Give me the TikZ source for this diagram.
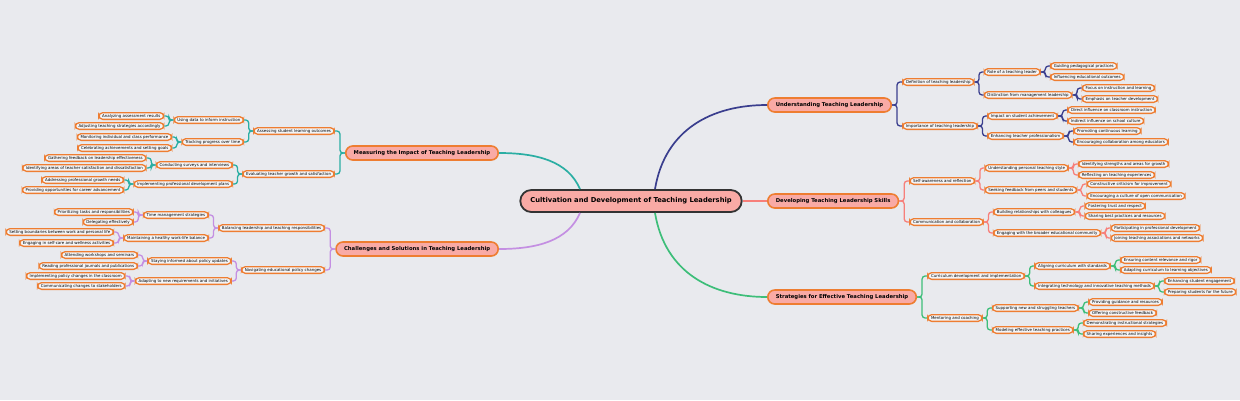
\documentclass[tikz,border=0pt]{standalone}
\usepackage{fontspec}
\setmainfont{DejaVu Sans}

\definecolor{bgcol}{HTML}{E9EAEE}
\definecolor{boxline}{HTML}{EE7D31}
\definecolor{salmon}{HTML}{F9AAA5}
\definecolor{leaffill}{HTML}{F4F5F7}
\definecolor{rootline}{HTML}{333333}
\definecolor{navybr}{HTML}{3A3E8E}
\definecolor{coralbr}{HTML}{F77F7A}
\definecolor{mintbr}{HTML}{3DBE79}
\definecolor{tealbr}{HTML}{2AAEA3}
\definecolor{lilacbr}{HTML}{C48FE2}

\tikzset{
  rootbox/.style={draw=rootline, line width=1.8pt, fill=salmon, rounded corners=11pt,
    minimum height=22pt, inner xsep=10pt, font=\fontsize{6.75}{8}\selectfont\bfseries},
  topic/.style={draw=boxline, line width=1.6pt, fill=salmon, rounded corners=7pt,
    minimum height=14pt, inner xsep=8pt, font=\fontsize{5.3}{6.5}\selectfont\bfseries},
  leaf/.style={draw=boxline, line width=1.3pt, fill=leaffill, rounded corners=4pt,
    inner xsep=3.3pt, inner ysep=1.4pt, text height=3pt, text depth=0.9pt,
    font=\fontsize{3.95}{5}\selectfont},
  rkid/.style={anchor=west, xshift=#1pt}, rkid/.default=9,
  lkid/.style={anchor=east, xshift=-#1pt}, lkid/.default=9,
  bough/.style={line width=1.7pt},
  twig/.style={line width=1.3pt, rounded corners=3pt},
}

\begin{document}
\begin{tikzpicture}[x=1pt,y=-1pt]
\useasboundingbox (0,0) rectangle (1240,400);
\fill[bgcol] (0,0) rectangle (1240,400);

\node[rootbox] (root) at (631,201) {Cultivation and Development of Teaching Leadership};

% right: understanding
\node[topic, anchor=west] (und) at (767,105) {Understanding Teaching Leadership};
\node[leaf, rkid=10] (def) at (und.east |- 0,82) {Definition of teaching leadership};
\node[leaf, rkid=10] (imp) at (und.east |- 0,126) {Importance of teaching leadership};
\node[leaf, rkid] (role) at (def.east |- 0,72) {Role of a teaching leader};
\node[leaf, rkid] (dist) at (def.east |- 0,95) {Distinction from management leadership};
\node[leaf, rkid] (guid) at (role.east |- 0,66) {Guiding pedagogical practices};
\node[leaf, rkid] (infl) at (role.east |- 0,77) {Influencing educational outcomes};
\node[leaf, rkid] (focus) at (dist.east |- 0,88) {Focus on instruction and learning};
\node[leaf, rkid] (emph) at (dist.east |- 0,99) {Emphasis on teacher development};
\node[leaf, rkid] (impact) at (imp.east |- 0,116) {Impact on student achievement};
\node[leaf, rkid] (enh) at (imp.east |- 0,136) {Enhancing teacher professionalism};
\node[leaf, rkid] (direct) at (impact.east |- 0,110) {Direct influence on classroom instruction};
\node[leaf, rkid] (indir) at (impact.east |- 0,121) {Indirect influence on school culture};
\node[leaf, rkid] (promo) at (enh.east |- 0,131) {Promoting continuous learning};
\node[leaf, rkid] (encour) at (enh.east |- 0,142) {Encouraging collaboration among educators};

% right: developing
\node[topic, anchor=west] (dev) at (767,201) {Developing Teaching Leadership Skills};
\node[leaf, rkid=10] (self) at (dev.east |- 0,181) {Self-awareness and reflection};
\node[leaf, rkid=10] (comm) at (dev.east |- 0,222) {Communication and collaboration};
\node[leaf, rkid] (upts) at (self.east |- 0,168) {Understanding personal teaching style};
\node[leaf, rkid] (seek) at (self.east |- 0,190) {Seeking feedback from peers and students};
\node[leaf, rkid] (strength) at (upts.east |- 0,164) {Identifying strengths and areas for growth};
\node[leaf, rkid] (reflect) at (upts.east |- 0,175) {Reflecting on teaching experiences};
\node[leaf, rkid] (constr) at (seek.east |- 0,184) {Constructive criticism for improvement};
\node[leaf, rkid] (culture) at (seek.east |- 0,196) {Encouraging a culture of open communication};
\node[leaf, rkid] (build) at (comm.east |- 0,212) {Building relationships with colleagues};
\node[leaf, rkid] (broad) at (comm.east |- 0,233) {Engaging with the broader educational community};
\node[leaf, rkid] (trust) at (build.east |- 0,206) {Fostering trust and respect};
\node[leaf, rkid] (best) at (build.east |- 0,216) {Sharing best practices and resources};
\node[leaf, rkid] (partic) at (broad.east |- 0,228) {Participating in professional development};
\node[leaf, rkid] (join) at (broad.east |- 0,238) {Joining teaching associations and networks};

% right: strategies
\node[topic, anchor=west] (strat) at (767,297) {Strategies for Effective Teaching Leadership};
\node[leaf, rkid=10] (curr) at (strat.east |- 0,276) {Curriculum development and implementation};
\node[leaf, rkid=10] (ment) at (strat.east |- 0,318) {Mentoring and coaching};
\node[leaf, rkid] (align) at (curr.east |- 0,266) {Aligning curriculum with standards};
\node[leaf, rkid] (integ) at (curr.east |- 0,286) {Integrating technology and innovative teaching methods};
\node[leaf, rkid] (ensure) at (align.east |- 0,260) {Ensuring content relevance and rigor};
\node[leaf, rkid] (adaptc) at (align.east |- 0,270) {Adapting curriculum to learning objectives};
\node[leaf, rkid] (engage) at (integ.east |- 0,281) {Enhancing student engagement};
\node[leaf, rkid] (prep) at (integ.east |- 0,292) {Preparing students for the future};
\node[leaf, rkid] (support) at (ment.east |- 0,308) {Supporting new and struggling teachers};
\node[leaf, rkid] (model) at (ment.east |- 0,330) {Modeling effective teaching practices};
\node[leaf, rkid] (guide) at (support.east |- 0,302) {Providing guidance and resources};
\node[leaf, rkid] (offer) at (support.east |- 0,313) {Offering constructive feedback};
\node[leaf, rkid] (demo) at (model.east |- 0,323) {Demonstrating instructional strategies};
\node[leaf, rkid] (sharex) at (model.east |- 0,334) {Sharing experiences and insights};

% left: measuring
\node[topic, anchor=east] (meas) at (499,153) {Measuring the Impact of Teaching Leadership};
\node[leaf, lkid=10] (assess) at (meas.west |- 0,131) {Assessing student learning outcomes};
\node[leaf, lkid=10] (evalg) at (meas.west |- 0,174) {Evaluating teacher growth and satisfaction};
\node[leaf, lkid] (usedata) at (assess.west |- 0,120) {Using data to inform instruction};
\node[leaf, lkid] (track) at (assess.west |- 0,142) {Tracking progress over time};
\node[leaf, lkid] (analyze) at (usedata.west |- 0,116) {Analyzing assessment results};
\node[leaf, lkid] (adjust) at (usedata.west |- 0,126) {Adjusting teaching strategies accordingly};
\node[leaf, lkid] (monitor) at (track.west |- 0,137) {Monitoring individual and class performance};
\node[leaf, lkid] (celeb) at (track.west |- 0,148) {Celebrating achievements and setting goals};
\node[leaf, lkid] (survey) at (evalg.west |- 0,165) {Conducting surveys and interviews};
\node[leaf, lkid] (plans) at (evalg.west |- 0,184) {Implementing professional development plans};
\node[leaf, lkid] (gather) at (survey.west |- 0,158) {Gathering feedback on leadership effectiveness};
\node[leaf, lkid] (identa) at (survey.west |- 0,168) {Identifying areas of teacher satisfaction and dissatisfaction};
\node[leaf, lkid] (address) at (plans.west |- 0,180) {Addressing professional growth needs};
\node[leaf, lkid] (career) at (plans.west |- 0,190) {Providing opportunities for career advancement};

% left: challenges
\node[topic, anchor=east] (chal) at (499,249) {Challenges and Solutions in Teaching Leadership};
\node[leaf, lkid=10] (balance) at (chal.west |- 0,228) {Balancing leadership and teaching responsibilities};
\node[leaf, lkid=10] (navig) at (chal.west |- 0,270) {Navigating educational policy changes};
\node[leaf, lkid] (timem) at (balance.west |- 0,215) {Time management strategies};
\node[leaf, lkid] (worklife) at (balance.west |- 0,238) {Maintaining a healthy work-life balance};
\node[leaf, lkid] (prior) at (timem.west |- 0,212) {Prioritizing tasks and responsibilities};
\node[leaf, lkid] (deleg) at (timem.west |- 0,222) {Delegating effectively};
\node[leaf, lkid] (bound) at (worklife.west |- 0,232) {Setting boundaries between work and personal life};
\node[leaf, lkid] (selfc) at (worklife.west |- 0,243) {Engaging in self-care and wellness activities};
\node[leaf, lkid] (stay) at (navig.west |- 0,261) {Staying informed about policy updates};
\node[leaf, lkid] (adaptn) at (navig.west |- 0,281) {Adapting to new requirements and initiatives};
\node[leaf, lkid] (attend) at (stay.west |- 0,255) {Attending workshops and seminars};
\node[leaf, lkid] (read) at (stay.west |- 0,266) {Reading professional journals and publications};
\node[leaf, lkid] (implp) at (adaptn.west |- 0,276) {Implementing policy changes in the classroom};
\node[leaf, lkid] (commc) at (adaptn.west |- 0,286) {Communicating changes to stakeholders};

% main boughs
\draw[bough, navybr] ([xshift=24pt]root.north) .. controls +(10,-60) and +(-55,0) .. (und.west);
\draw[bough, coralbr] (root.east) -- (dev.west);
\draw[bough, mintbr] ([xshift=24pt]root.south) .. controls +(10,60) and +(-55,0) .. (strat.west);
\draw[bough, tealbr] ([xshift=-51pt]root.north) .. controls +(-12,-28) and +(38,0) .. (meas.east);
\draw[bough, lilacbr] ([xshift=-51pt]root.south) .. controls +(-12,28) and +(38,0) .. (chal.east);

% twigs, right side
\foreach \p/\c/\g in {und/def/5,und/imp/5,def/role/4.5,def/dist/4.5,role/guid/4.5,role/infl/4.5,
    dist/focus/4.5,dist/emph/4.5,imp/impact/4.5,imp/enh/4.5,impact/direct/4.5,impact/indir/4.5,
    enh/promo/4.5,enh/encour/4.5}
  \draw[twig, navybr] (\p.east) -- ++(\g,0) |- (\c.west);
\foreach \p/\c/\g in {dev/self/5,dev/comm/5,self/upts/4.5,self/seek/4.5,upts/strength/4.5,upts/reflect/4.5,
    seek/constr/4.5,seek/culture/4.5,comm/build/4.5,comm/broad/4.5,build/trust/4.5,build/best/4.5,
    broad/partic/4.5,broad/join/4.5}
  \draw[twig, coralbr] (\p.east) -- ++(\g,0) |- (\c.west);
\foreach \p/\c/\g in {strat/curr/5,strat/ment/5,curr/align/4.5,curr/integ/4.5,align/ensure/4.5,align/adaptc/4.5,
    integ/engage/4.5,integ/prep/4.5,ment/support/4.5,ment/model/4.5,support/guide/4.5,support/offer/4.5,
    model/demo/4.5,model/sharex/4.5}
  \draw[twig, mintbr] (\p.east) -- ++(\g,0) |- (\c.west);

% twigs, left side
\foreach \p/\c/\g in {meas/assess/5,meas/evalg/5,assess/usedata/4.5,assess/track/4.5,usedata/analyze/4.5,
    usedata/adjust/4.5,track/monitor/4.5,track/celeb/4.5,evalg/survey/4.5,evalg/plans/4.5,
    survey/gather/4.5,survey/identa/4.5,plans/address/4.5,plans/career/4.5}
  \draw[twig, tealbr] (\p.west) -- ++(-\g,0) |- (\c.east);
\foreach \p/\c/\g in {chal/balance/5,chal/navig/5,balance/timem/4.5,balance/worklife/4.5,timem/prior/4.5,
    timem/deleg/4.5,worklife/bound/4.5,worklife/selfc/4.5,navig/stay/4.5,navig/adaptn/4.5,
    stay/attend/4.5,stay/read/4.5,adaptn/implp/4.5,adaptn/commc/4.5}
  \draw[twig, lilacbr] (\p.west) -- ++(-\g,0) |- (\c.east);
\end{tikzpicture}
\end{document}
